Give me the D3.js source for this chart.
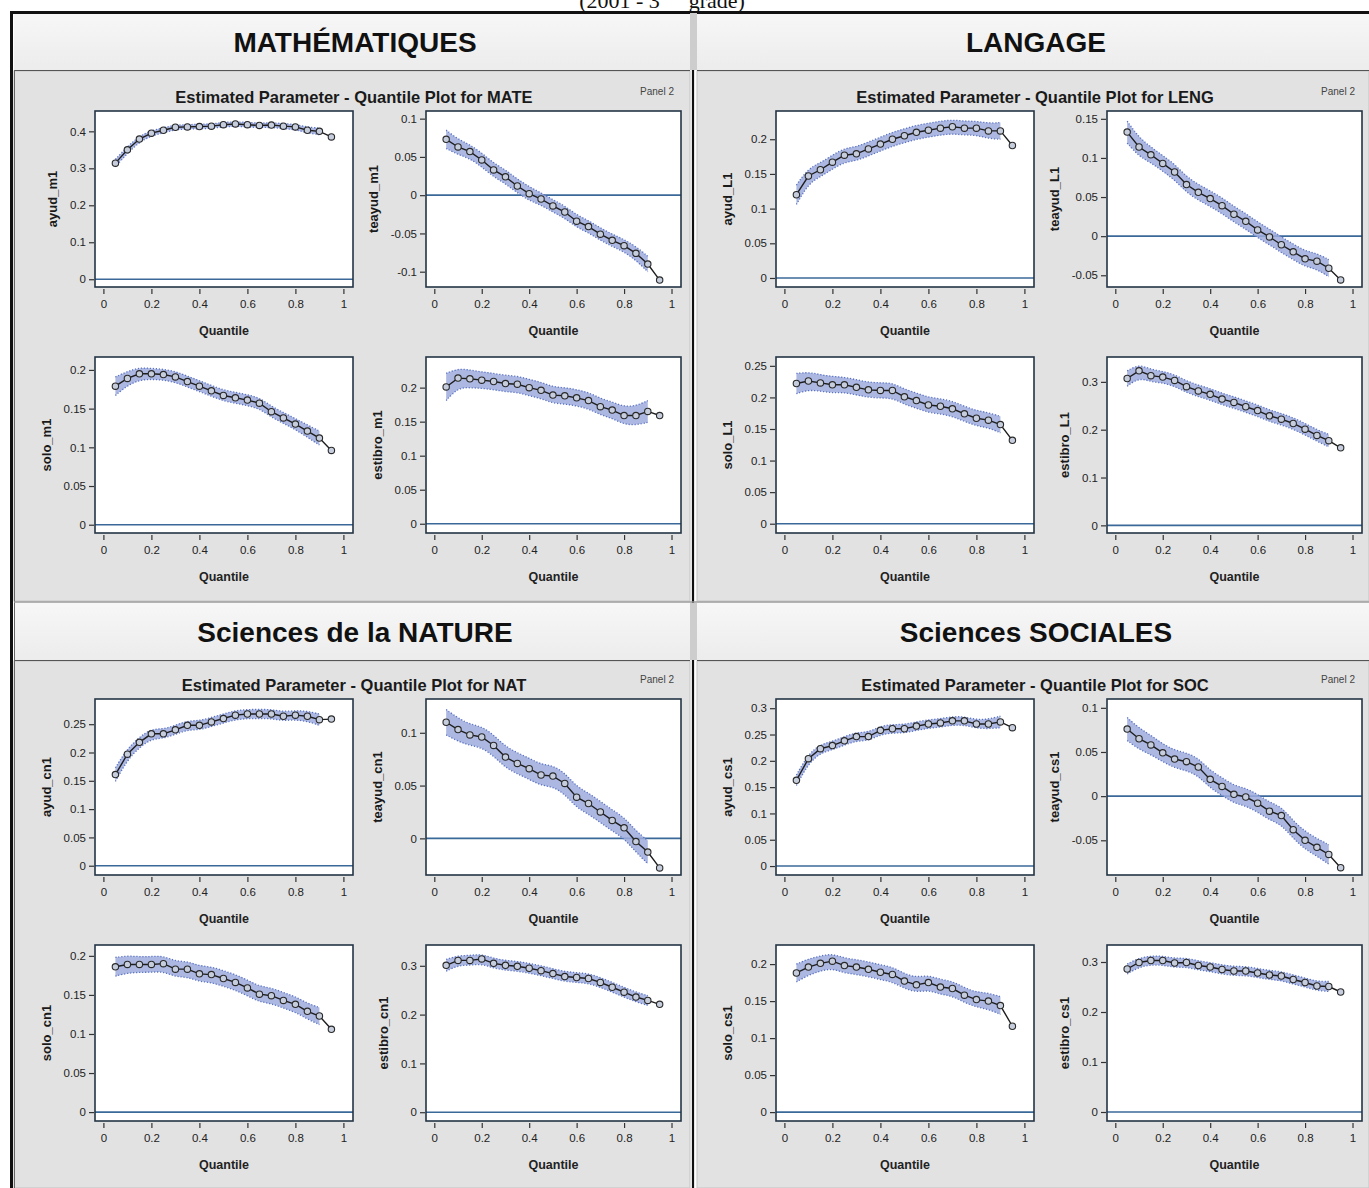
<!DOCTYPE html>
<html>
<head>
<meta charset="utf-8">
<script src="https://cdn.jsdelivr.net/npm/d3@7"></script>
<style>
  body { margin: 0; background: #fff; }
  svg { display: block; }
  text { font-family: "Liberation Sans", Arial, sans-serif; }
</style>
</head>
<body>
<div id="chart"></div>
<script>
// quantile grid and axis ticks
const quantiles = [0.05, 0.10, 0.15, 0.20, 0.25, 0.30, 0.35, 0.40, 0.45, 0.50,
  0.55, 0.60, 0.65, 0.70, 0.75, 0.80, 0.85, 0.90, 0.95];
const xTicks = [0, 0.2, 0.4, 0.6, 0.8, 1];

// MATHEMATIQUES
const ayud_m1 = [0.314, 0.350, 0.379, 0.395, 0.403, 0.411, 0.412, 0.413, 0.414, 0.418, 0.420, 0.418, 0.416, 0.417, 0.414, 0.412, 0.403, 0.400, 0.385];
const ayud_m1_ci = [0.010, 0.009, 0.008, 0.007, 0.007, 0.006, 0.006, 0.006, 0.006, 0.006, 0.006, 0.006, 0.006, 0.006, 0.007, 0.007, 0.008, 0.009, null];
const teayud_m1 = [0.073, 0.063, 0.057, 0.046, 0.033, 0.024, 0.012, 0.002, -0.005, -0.014, -0.022, -0.034, -0.041, -0.051, -0.059, -0.066, -0.076, -0.090, -0.111];
const teayud_m1_ci = [0.012, 0.010, 0.009, 0.009, 0.009, 0.009, 0.009, 0.009, 0.008, 0.008, 0.008, 0.008, 0.008, 0.008, 0.008, 0.008, 0.009, 0.010, null];
const solo_m1 = [0.179, 0.189, 0.195, 0.195, 0.194, 0.191, 0.185, 0.179, 0.173, 0.167, 0.164, 0.161, 0.157, 0.146, 0.138, 0.130, 0.121, 0.112, 0.096];
const solo_m1_ci = [0.012, 0.009, 0.008, 0.007, 0.007, 0.007, 0.007, 0.007, 0.007, 0.007, 0.007, 0.007, 0.007, 0.007, 0.007, 0.007, 0.008, 0.009, null];
const estibro_m1 = [0.201, 0.214, 0.213, 0.211, 0.209, 0.206, 0.205, 0.200, 0.196, 0.189, 0.188, 0.185, 0.181, 0.172, 0.167, 0.159, 0.159, 0.165, 0.159];
const estibro_m1_ci = [0.020, 0.014, 0.013, 0.012, 0.012, 0.012, 0.012, 0.012, 0.012, 0.012, 0.012, 0.012, 0.012, 0.012, 0.012, 0.013, 0.014, 0.016, null];

// LANGAGE
const ayud_L1 = [0.120, 0.147, 0.156, 0.167, 0.177, 0.179, 0.186, 0.193, 0.200, 0.205, 0.210, 0.213, 0.216, 0.218, 0.216, 0.216, 0.212, 0.212, 0.191];
const ayud_L1_ci = [0.014, 0.011, 0.010, 0.010, 0.010, 0.010, 0.010, 0.010, 0.010, 0.010, 0.010, 0.010, 0.010, 0.010, 0.010, 0.010, 0.011, 0.012, null];
const teayud_L1 = [0.133, 0.114, 0.104, 0.093, 0.082, 0.066, 0.056, 0.048, 0.039, 0.028, 0.019, 0.008, -0.001, -0.011, -0.020, -0.029, -0.032, -0.041, -0.056];
const teayud_L1_ci = [0.014, 0.012, 0.010, 0.010, 0.010, 0.010, 0.010, 0.010, 0.010, 0.010, 0.010, 0.010, 0.010, 0.010, 0.010, 0.010, 0.010, 0.011, null];
const solo_L1 = [0.222, 0.226, 0.223, 0.220, 0.220, 0.216, 0.212, 0.211, 0.211, 0.201, 0.195, 0.188, 0.186, 0.182, 0.174, 0.167, 0.164, 0.157, 0.132];
const solo_L1_ci = [0.016, 0.014, 0.013, 0.013, 0.012, 0.012, 0.012, 0.012, 0.012, 0.012, 0.012, 0.012, 0.012, 0.012, 0.012, 0.012, 0.012, 0.013, null];
const estibro_L1 = [0.307, 0.323, 0.313, 0.310, 0.303, 0.290, 0.281, 0.274, 0.264, 0.257, 0.248, 0.240, 0.229, 0.222, 0.213, 0.201, 0.188, 0.177, 0.162];
const estibro_L1_ci = [0.016, 0.014, 0.013, 0.012, 0.012, 0.012, 0.012, 0.012, 0.012, 0.012, 0.012, 0.012, 0.012, 0.012, 0.012, 0.012, 0.012, 0.013, null];

// Sciences de la NATURE
const ayud_cn1 = [0.161, 0.197, 0.218, 0.233, 0.233, 0.240, 0.248, 0.248, 0.254, 0.260, 0.266, 0.268, 0.268, 0.268, 0.264, 0.266, 0.264, 0.258, 0.259];
const ayud_cn1_ci = [0.012, 0.010, 0.009, 0.009, 0.008, 0.008, 0.008, 0.008, 0.008, 0.008, 0.008, 0.008, 0.008, 0.008, 0.008, 0.008, 0.009, 0.010, null];
const teayud_cn1 = [0.110, 0.103, 0.098, 0.096, 0.088, 0.077, 0.071, 0.066, 0.060, 0.059, 0.052, 0.039, 0.033, 0.025, 0.017, 0.010, -0.003, -0.013, -0.028];
const teayud_cn1_ci = [0.012, 0.011, 0.010, 0.010, 0.010, 0.010, 0.010, 0.010, 0.010, 0.010, 0.010, 0.010, 0.010, 0.010, 0.010, 0.010, 0.010, 0.011, null];
const solo_cn1 = [0.186, 0.189, 0.189, 0.189, 0.190, 0.183, 0.183, 0.177, 0.176, 0.171, 0.166, 0.159, 0.151, 0.149, 0.143, 0.138, 0.129, 0.123, 0.106];
const solo_cn1_ci = [0.012, 0.011, 0.010, 0.010, 0.010, 0.010, 0.010, 0.010, 0.010, 0.010, 0.010, 0.010, 0.010, 0.010, 0.010, 0.010, 0.010, 0.011, null];
const estibro_cn1 = [0.301, 0.311, 0.311, 0.314, 0.305, 0.301, 0.299, 0.295, 0.290, 0.284, 0.278, 0.276, 0.274, 0.266, 0.256, 0.246, 0.236, 0.229, 0.221];
const estibro_cn1_ci = [0.012, 0.010, 0.010, 0.010, 0.010, 0.010, 0.010, 0.010, 0.010, 0.010, 0.010, 0.010, 0.010, 0.010, 0.010, 0.010, 0.010, 0.010, null];

// Sciences SOCIALES
const ayud_cs1 = [0.163, 0.204, 0.223, 0.229, 0.238, 0.246, 0.246, 0.258, 0.261, 0.261, 0.266, 0.270, 0.272, 0.276, 0.276, 0.270, 0.270, 0.274, 0.263];
const ayud_cs1_ci = [0.010, 0.009, 0.008, 0.008, 0.008, 0.008, 0.008, 0.008, 0.008, 0.008, 0.008, 0.008, 0.008, 0.008, 0.008, 0.008, 0.009, 0.011, null];
const teayud_cs1 = [0.076, 0.065, 0.058, 0.049, 0.042, 0.039, 0.033, 0.019, 0.011, 0.002, -0.001, -0.008, -0.017, -0.022, -0.038, -0.050, -0.058, -0.066, -0.081];
const teayud_cs1_ci = [0.013, 0.012, 0.011, 0.010, 0.010, 0.010, 0.010, 0.010, 0.010, 0.010, 0.010, 0.010, 0.010, 0.010, 0.010, 0.010, 0.010, 0.011, null];
const solo_cs1 = [0.188, 0.196, 0.201, 0.204, 0.198, 0.196, 0.193, 0.189, 0.186, 0.177, 0.172, 0.175, 0.169, 0.167, 0.158, 0.152, 0.150, 0.144, 0.116];
const solo_cs1_ci = [0.012, 0.011, 0.010, 0.010, 0.010, 0.010, 0.010, 0.010, 0.010, 0.010, 0.010, 0.010, 0.010, 0.010, 0.010, 0.010, 0.011, 0.012, null];
const estibro_cs1 = [0.286, 0.299, 0.303, 0.303, 0.298, 0.299, 0.293, 0.290, 0.285, 0.282, 0.282, 0.278, 0.274, 0.272, 0.265, 0.259, 0.252, 0.251, 0.240];
const estibro_cs1_ci = [0.010, 0.009, 0.009, 0.009, 0.009, 0.009, 0.009, 0.009, 0.009, 0.009, 0.009, 0.009, 0.009, 0.009, 0.009, 0.009, 0.009, 0.010, null];

// section titles and SAS plot codes
const sectionTitles = ['MATHÉMATIQUES', 'LANGAGE', 'Sciences de la NATURE', 'Sciences SOCIALES'];
const sectionCodes = ['MATE', 'LENG', 'NAT', 'SOC'];

const plotsBySection = [
  [
    { name: 'ayud_m1', values: ayud_m1, ci: ayud_m1_ci, domain: [-0.021, 0.455], ticks: [0, 0.1, 0.2, 0.3, 0.4] },
    { name: 'teayud_m1', values: teayud_m1, ci: teayud_m1_ci, domain: [-0.12, 0.11], ticks: [-0.1, -0.05, 0, 0.05, 0.1] },
    { name: 'solo_m1', values: solo_m1, ci: solo_m1_ci, domain: [-0.0107, 0.2167], ticks: [0, 0.05, 0.1, 0.15, 0.2] },
    { name: 'estibro_m1', values: estibro_m1, ci: estibro_m1_ci, domain: [-0.0136, 0.245], ticks: [0, 0.05, 0.1, 0.15, 0.2] }
  ],
  [
    { name: 'ayud_L1', values: ayud_L1, ci: ayud_L1_ci, domain: [-0.013, 0.2407], ticks: [0, 0.05, 0.1, 0.15, 0.2] },
    { name: 'teayud_L1', values: teayud_L1, ci: teayud_L1_ci, domain: [-0.065, 0.16], ticks: [-0.05, 0, 0.05, 0.1, 0.15] },
    { name: 'solo_L1', values: solo_L1, ci: solo_L1_ci, domain: [-0.0147, 0.264], ticks: [0, 0.05, 0.1, 0.15, 0.2, 0.25] },
    { name: 'estibro_L1', values: estibro_L1, ci: estibro_L1_ci, domain: [-0.016, 0.352], ticks: [0, 0.1, 0.2, 0.3] }
  ],
  [
    { name: 'ayud_cn1', values: ayud_cn1, ci: ayud_cn1_ci, domain: [-0.0164, 0.2945], ticks: [0, 0.05, 0.1, 0.15, 0.2, 0.25] },
    { name: 'teayud_cn1', values: teayud_cn1, ci: teayud_cn1_ci, domain: [-0.0347, 0.132], ticks: [0, 0.05, 0.1] },
    { name: 'solo_cn1', values: solo_cn1, ci: solo_cn1_ci, domain: [-0.0114, 0.2139], ticks: [0, 0.05, 0.1, 0.15, 0.2] },
    { name: 'estibro_cn1', values: estibro_cn1, ci: estibro_cn1_ci, domain: [-0.018, 0.3426], ticks: [0, 0.1, 0.2, 0.3] }
  ],
  [
    { name: 'ayud_cs1', values: ayud_cs1, ci: ayud_cs1_ci, domain: [-0.017, 0.3175], ticks: [0, 0.05, 0.1, 0.15, 0.2, 0.25, 0.3] },
    { name: 'teayud_cs1', values: teayud_cs1, ci: teayud_cs1_ci, domain: [-0.0893, 0.11], ticks: [-0.05, 0, 0.05, 0.1] },
    { name: 'solo_cs1', values: solo_cs1, ci: solo_cs1_ci, domain: [-0.012, 0.2258], ticks: [0, 0.05, 0.1, 0.15, 0.2] },
    { name: 'estibro_cs1', values: estibro_cs1, ci: estibro_cs1_ci, domain: [-0.018, 0.334], ticks: [0, 0.1, 0.2, 0.3] }
  ]
];

// layout
const width = 1369;
const height = 1188;
const secDX = 681;
const secDY = 588;
const colX = [[95, 353], [426, 681]];
const rowY = [[111, 287], [357, 533]];
const xDomain = [-0.035, 1.04];

const svg = d3.select('#chart')
  .append('svg')
  .attr('width', width)
  .attr('height', height);

svg.append('rect')
  .attr('width', width)
  .attr('height', height)
  .attr('fill', '#fff');

// caption above the frame (cut by the page edge in the scan)
const cap = svg.append('text')
  .attr('x', 662)
  .attr('y', 8)
  .attr('text-anchor', 'middle')
  .style('font-family', '"Liberation Serif", "Times New Roman", serif')
  .style('font-size', '22px')
  .attr('fill', '#111');
cap.append('tspan').text('(2001 - 3');
cap.append('tspan').attr('dy', -8).style('font-size', '14px').text('ème');
cap.append('tspan').attr('dy', 8).text(' grade)');

// header bands and grey panels
const headerTop = [13, 603];
const panelRange = [[71, 601], [661, 1188]];
const sideX = [[14, 690], [697, width]];

const defs = svg.append('defs');
const lg = defs.append('linearGradient')
  .attr('id', 'hdr').attr('x1', 0).attr('x2', 0).attr('y1', 0).attr('y2', 1);
lg.append('stop').attr('offset', 0).attr('stop-color', '#f7f7f7');
lg.append('stop').attr('offset', 1).attr('stop-color', '#ececec');

[0, 1].forEach(r => {
  [0, 1].forEach(c => {
    const [x0, x1] = sideX[c];

    svg.append('rect')
      .attr('x', x0).attr('y', headerTop[r])
      .attr('width', x1 - x0).attr('height', 57)
      .attr('fill', 'url(#hdr)');

    svg.append('rect')
      .attr('x', x0).attr('y', panelRange[r][0])
      .attr('width', x1 - x0).attr('height', panelRange[r][1] - panelRange[r][0])
      .attr('fill', '#e2e2e2')
      .attr('stroke', '#c4c4c4')
      .attr('stroke-width', 1);

    svg.append('line')
      .attr('x1', x0).attr('x2', x1)
      .attr('y1', panelRange[r][0] - 0.5).attr('y2', panelRange[r][0] - 0.5)
      .attr('stroke', '#555').attr('stroke-width', 1.2);
  });
});

// frame and divider
svg.append('line').attr('x1', 11.5).attr('x2', 11.5).attr('y1', 11).attr('y2', height)
  .attr('stroke', '#111').attr('stroke-width', 3);
svg.append('line').attr('x1', 10).attr('x2', width).attr('y1', 12.5).attr('y2', 12.5)
  .attr('stroke', '#111').attr('stroke-width', 3);
svg.append('line').attr('x1', 14.5).attr('x2', 14.5).attr('y1', 70).attr('y2', height)
  .attr('stroke', '#666').attr('stroke-width', 1);
svg.append('line').attr('x1', 693).attr('x2', 693).attr('y1', 12).attr('y2', height)
  .attr('stroke', '#111').attr('stroke-width', 2.2);
headerTop.forEach(y0 => {
  svg.append('rect').attr('x', 690).attr('y', y0).attr('width', 7).attr('height', 57)
    .attr('fill', '#cdcdcd');
});
svg.append('line').attr('x1', 14).attr('x2', width).attr('y1', 602).attr('y2', 602)
  .attr('stroke', '#9a9a9a').attr('stroke-width', 1.5);

function drawPlot(g, spec, box) {
  const x = d3.scaleLinear().domain(xDomain).range([box.x0, box.x1]);
  const y = d3.scaleLinear().domain(spec.domain).range([box.y1, box.y0]);

  g.append('rect')
    .attr('x', box.x0).attr('y', box.y0)
    .attr('width', box.x1 - box.x0).attr('height', box.y1 - box.y0)
    .attr('fill', '#fff');

  const pts = quantiles.map((q, i) => ({ q: q, v: spec.values[i], h: spec.ci[i] }));
  const bandPts = pts.filter(d => d.h != null);

  // zero reference
  g.append('line')
    .attr('x1', box.x0).attr('x2', box.x1)
    .attr('y1', y(0)).attr('y2', y(0))
    .attr('stroke', '#3a6898').attr('stroke-width', 1.6);

  // confidence band
  const area = d3.area()
    .x(d => x(d.q))
    .y0(d => y(d.v - d.h))
    .y1(d => y(d.v + d.h))
    .curve(d3.curveBasis);

  g.append('path')
    .datum(bandPts)
    .attr('d', area)
    .attr('fill', '#9dabdd')
    .attr('fill-opacity', 0.85);

  ['lo', 'hi'].forEach(side => {
    const edge = d3.line()
      .x(d => x(d.q))
      .y(d => y(side === 'lo' ? d.v - d.h : d.v + d.h))
      .curve(d3.curveBasis);
    g.append('path')
      .datum(bandPts)
      .attr('d', edge)
      .attr('fill', 'none')
      .attr('stroke', '#5a72c2')
      .attr('stroke-width', 1.3)
      .attr('stroke-dasharray', '1.2,1.8');
  });

  // estimate line and markers
  const line = d3.line().x(d => x(d.q)).y(d => y(d.v));
  g.append('path')
    .datum(pts)
    .attr('d', line)
    .attr('fill', 'none')
    .attr('stroke', '#1e1e1e')
    .attr('stroke-width', 1.4);

  g.selectAll('circle.pt')
    .data(pts)
    .enter()
    .append('circle')
    .attr('class', 'pt')
    .attr('cx', d => x(d.q))
    .attr('cy', d => y(d.v))
    .attr('r', 3.2)
    .attr('fill', '#c6cddd')
    .attr('stroke', '#2a2a2a')
    .attr('stroke-width', 1.1);

  // frame
  g.append('rect')
    .attr('x', box.x0).attr('y', box.y0)
    .attr('width', box.x1 - box.x0).attr('height', box.y1 - box.y0)
    .attr('fill', 'none')
    .attr('stroke', '#243545')
    .attr('stroke-width', 1.6);

  // axes
  const xAxis = g.append('g')
    .attr('transform', `translate(0,${box.y1 + 2})`)
    .call(d3.axisBottom(x).tickValues(xTicks).tickSize(5).tickPadding(6).tickFormat(d => String(d)));

  const yAxis = g.append('g')
    .attr('transform', `translate(${box.x0 - 1},0)`)
    .call(d3.axisLeft(y).tickValues(spec.ticks).tickSize(5).tickPadding(3).tickFormat(d => String(d)));

  [xAxis, yAxis].forEach(ax => {
    ax.select('.domain').remove();
    ax.selectAll('.tick line').attr('stroke', '#333').attr('stroke-width', 1.2);
    ax.selectAll('.tick text')
      .attr('fill', '#222')
      .style('font-size', '11.5px')
      .style('font-family', '"Liberation Sans Narrow", "Liberation Sans", Arial, sans-serif');
  });

  g.append('text')
    .attr('x', (box.x0 + box.x1) / 2)
    .attr('y', box.y1 + 48)
    .attr('text-anchor', 'middle')
    .style('font-size', '12.5px')
    .style('font-weight', 'bold')
    .attr('fill', '#222')
    .text('Quantile');

  // y label sits left of the widest tick label
  const yb = yAxis.node().getBBox();
  const lx = box.x0 - 1 + yb.x - 13;
  g.append('text')
    .attr('transform', `translate(${lx},${(box.y0 + box.y1) / 2}) rotate(-90)`)
    .attr('text-anchor', 'middle')
    .style('font-size', '13px')
    .style('font-weight', '700')
    .attr('fill', '#1a1a1a')
    .text(spec.name);
}

sectionTitles.forEach((title, s) => {
  const dx = (s % 2) * secDX;
  const dy = Math.floor(s / 2) * secDY;
  const hy = Math.floor(s / 2) === 0 ? 0 : 590;

  svg.append('text')
    .attr('x', 355 + dx)
    .attr('y', 52 + hy)
    .attr('text-anchor', 'middle')
    .style('font-size', '28px')
    .style('font-weight', 'bold')
    .attr('fill', '#111')
    .text(title);

  svg.append('text')
    .attr('x', 354 + dx)
    .attr('y', 103 + dy)
    .attr('text-anchor', 'middle')
    .style('font-size', '16.5px')
    .style('font-weight', 'bold')
    .attr('fill', '#1a1a1a')
    .text('Estimated Parameter - Quantile Plot for ' + sectionCodes[s]);

  svg.append('text')
    .attr('x', 657 + dx)
    .attr('y', 95 + dy)
    .attr('text-anchor', 'middle')
    .style('font-size', '10px')
    .attr('fill', '#444')
    .text('Panel 2');

  plotsBySection[s].forEach((spec, p) => {
    const c = p % 2;
    const r = Math.floor(p / 2);
    const box = {
      x0: colX[c][0] + dx, x1: colX[c][1] + dx,
      y0: rowY[r][0] + dy, y1: rowY[r][1] + dy
    };
    drawPlot(svg.append('g').attr('class', 'plot'), spec, box);
  });
});
</script>
</body>
</html>
